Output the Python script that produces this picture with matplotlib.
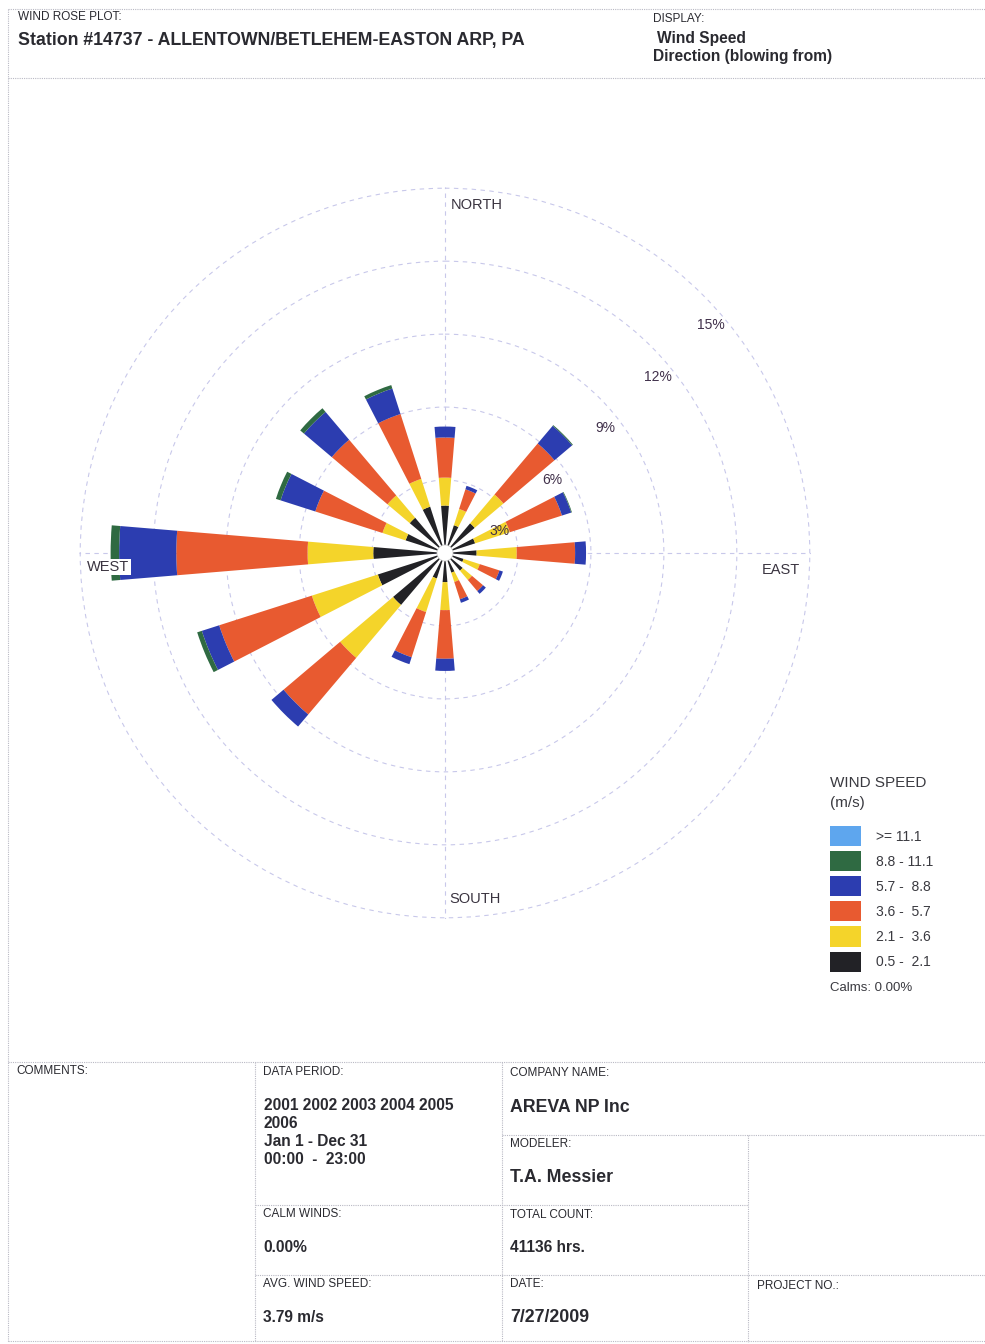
import numpy as np
import matplotlib
matplotlib.use('Agg')
import matplotlib.pyplot as plt
from matplotlib.patches import Patch, Circle

plt.rcParams['font.family'] = ['Liberation Sans', 'DejaVu Sans']

# wind rose data, % of hours per direction (blowing from)
directions = ['N', 'NNE', 'NE', 'ENE', 'E', 'ESE', 'SE', 'SSE',
              'S', 'SSW', 'SW', 'WSW', 'W', 'WNW', 'NW', 'NNW']
dir_deg = [0, 22.5, 45, 67.5, 90, 112.5, 135, 157.5,
           180, 202.5, 225, 247.5, 270, 292.5, 315, 337.5]
freq_05_21 = [1.95, 1.20, 1.60, 1.30, 1.30, 0.80, 0.95, 0.85,
              1.20, 1.10, 2.80, 2.90, 2.95, 1.70, 1.90, 2.00]
freq_21_36 = [1.15, 0.70, 1.55, 1.50, 1.65, 0.70, 0.50, 0.40,
              1.15, 1.45, 2.85, 2.85, 2.70, 1.00, 1.20, 1.20]
freq_36_57 = [1.65, 0.85, 2.75, 2.25, 2.40, 0.85, 0.60, 0.75,
              2.00, 1.95, 3.05, 4.00, 5.40, 2.90, 3.00, 2.80]
freq_57_88 = [0.45, 0.15, 0.95, 0.40, 0.45, 0.15, 0.15, 0.15,
              0.50, 0.30, 0.65, 0.75, 2.35, 1.50, 1.50, 1.10]
freq_88_111 = [0.00, 0.00, 0.04, 0.03, 0.00, 0.00, 0.00, 0.00,
               0.00, 0.00, 0.00, 0.20, 0.35, 0.20, 0.20, 0.15]
freq_111_up = [0.0] * 16

speed_labels = ['0.5 -  2.1', '2.1 -  3.6', '3.6 -  5.7', '5.7 -  8.8',
                '8.8 - 11.1', '>= 11.1']
speed_colors = ['#222226', '#f4d42a', '#e85a30', '#2c3db0', '#2f6a42', '#5ea6ee']
ring_values = [3, 6, 9, 12, 15]

W, H = 985, 1344
fig = plt.figure(figsize=(W / 100, H / 100), dpi=100)

def fx(x):
    return x / W

def fy(y):
    return 1 - y / H

# background layer in pixel coords for the form frame
bg = fig.add_axes([0, 0, 1, 1], zorder=-1)
bg.set_xlim(0, W)
bg.set_ylim(H, 0)
bg.axis('off')

line_kw = dict(color='#b9b9c4', lw=0.8, ls=(0, (1, 1)))
bg.plot([8, 985], [9, 9], **line_kw)
bg.plot([8, 985], [78, 78], **line_kw)
bg.plot([8, 8], [9, 1342], **line_kw)
bg.plot([8, 985], [1062, 1062], **line_kw)
bg.plot([8, 985], [1341, 1341], **line_kw)
bg.plot([255, 255], [1062, 1342], **line_kw)
bg.plot([502, 502], [1062, 1342], **line_kw)
bg.plot([748, 748], [1135, 1342], **line_kw)
bg.plot([502, 985], [1135, 1135], **line_kw)
bg.plot([255, 748], [1205, 1205], **line_kw)
bg.plot([255, 985], [1275, 1275], **line_kw)

txt = '#2a2a30'
small = dict(fontsize=8.5, color=txt, va='center', ha='left')
big = dict(fontsize=11.2, color=txt, va='center', ha='left', fontweight='bold')
bigger = dict(fontsize=12.8, color=txt, va='center', ha='left', fontweight='bold')

bg.text(18, 17, 'WIND ROSE PLOT:', **small)
bg.text(18, 41, 'Station #14737 - ALLENTOWN/BETLEHEM-EASTON ARP, PA', **bigger)
bg.text(653, 19, 'DISPLAY:', **small)
bg.text(657, 39, 'Wind Speed', **big)
bg.text(653, 57, 'Direction (blowing from)', **big)

bg.text(16, 1071, 'COMMENTS:', **small)
bg.text(263, 1072, 'DATA PERIOD:', **small)
bg.text(264, 1106, '2001 2002 2003 2004 2005', **big)
bg.text(264, 1124, '2006', **big)
bg.text(264, 1142, 'Jan 1 - Dec 31', **big)
bg.text(264, 1160, '00:00  -  23:00', **big)
bg.text(510, 1073, 'COMPANY NAME:', **small)
bg.text(510, 1107, 'AREVA NP Inc', **bigger)
bg.text(510, 1144, 'MODELER:', **small)
bg.text(510, 1177, 'T.A. Messier', **bigger)
bg.text(263, 1214, 'CALM WINDS:', **small)
bg.text(263, 1247, '0.00%', **big)
bg.text(510, 1215, 'TOTAL COUNT:', **small)
bg.text(510, 1248, '41136 hrs.', **big)
bg.text(263, 1284, 'AVG. WIND SPEED:', **small)
bg.text(263, 1317, '3.79 m/s', **big)
bg.text(510, 1284, 'DATE:', **small)
bg.text(510, 1317, '7/27/2009', **bigger)
bg.text(757, 1286, 'PROJECT NO.:', **small)

# polar wind rose
cx, cy, R = 445, 553, 366
ax = fig.add_axes([fx(cx - R), fy(cy + R), 2 * R / W, 2 * R / H],
                  projection='polar', zorder=1)
ax.set_facecolor('none')
ax.set_theta_zero_location('N')
ax.set_theta_direction(-1)

theta = np.deg2rad(dir_deg)
width = np.deg2rad(9.5)
series = [freq_05_21, freq_21_36, freq_36_57, freq_57_88, freq_88_111, freq_111_up]
bottom = np.zeros(len(directions))
handles = []
for vals, col, lab in zip(series, speed_colors, speed_labels):
    vals = np.array(vals)
    ax.bar(theta, vals, width=width, bottom=bottom, color=col,
           edgecolor='none', zorder=3)
    bottom = bottom + vals
    handles.append(Patch(facecolor=col, edgecolor='none', label=lab))

ax.set_ylim(0, 15.05)
ax.set_rgrids(ring_values, labels=[''] * len(ring_values))
ax.set_thetagrids([0, 90, 180, 270], labels=[''] * 4)
ax.grid(True, color='#c8c8ea', lw=0.8, ls=(0, (4, 4)))
ax.spines['polar'].set_visible(False)
ax.add_patch(Circle((0.5, 0.5), 8 / (2 * R), transform=ax.transAxes,
                    facecolor='white', edgecolor='#cccccc', lw=0.5, zorder=5))

for rv in ring_values:
    ax.annotate('%d%%' % rv, xy=(np.deg2rad(45), rv),
                xytext=(2 + 0.4 * rv, -30),
                textcoords='offset pixels', ha='center', va='center',
                fontsize=10, color='#40304a', zorder=6)

lab_kw = dict(fontsize=10.5, color='#3a3440', va='center', ha='left')
fig.text(fx(451), fy(205), 'NORTH', **lab_kw)
fig.text(fx(449), fy(899), 'SOUTH', **lab_kw)
fig.text(fx(762), fy(570), 'EAST', **lab_kw)
fig.text(fx(87), fy(567), 'WEST', zorder=10,
         bbox=dict(facecolor='white', edgecolor='none', pad=1.0), **lab_kw)

# legend
leg_col = '#3a3a40'
fig.text(fx(830), fy(783), 'WIND SPEED', fontsize=11, color=leg_col,
         va='center', ha='left')
fig.text(fx(830), fy(803), '(m/s)', fontsize=11, color=leg_col,
         va='center', ha='left')
leg = fig.legend(handles=handles[::-1], labels=speed_labels[::-1],
                 loc='upper left', bbox_to_anchor=(fx(830), fy(826)),
                 frameon=False, fontsize=10, handlelength=2.2,
                 handleheight=1.85, labelspacing=0.36, handletextpad=1.1,
                 borderpad=0, borderaxespad=0)
for t in leg.get_texts():
    t.set_color(leg_col)
fig.text(fx(830), fy(988), 'Calms: 0.00%', fontsize=9.5, color=leg_col,
         va='center', ha='left')

fig.savefig('out.png', dpi=100)
